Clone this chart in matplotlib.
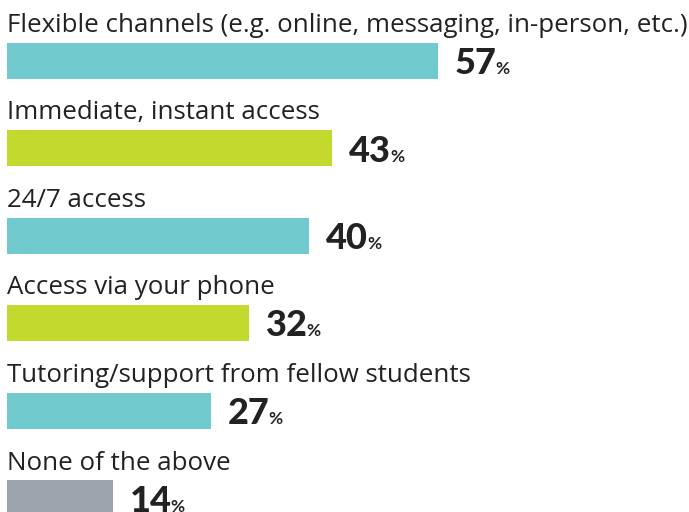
import matplotlib
matplotlib.use("Agg")
import matplotlib.pyplot as plt

categories = [
    "Flexible channels (e.g. online, messaging, in-person, etc.)",
    "Immediate, instant access",
    "24/7 access",
    "Access via your phone",
    "Tutoring/support from fellow students",
    "None of the above",
]
values = [57, 43, 40, 32, 27, 14]
colors = ["#70C9CD", "#C3D92E", "#70C9CD", "#C3D92E", "#70C9CD", "#9AA5AE"]

W, H = 689, 512
fig = plt.figure(figsize=(W / 100, H / 100), dpi=100)
ax = fig.add_axes([0, 0, 1, 1])
scale = 7.56  # px per percent
ax.set_xlim(-7 / scale, (W - 7) / scale)
ax.set_ylim(H, 0)
ax.axis("off")

centers = [60.5 + 87.5 * i for i in range(len(values))]
ax.barh(centers, values, height=36, color=colors, left=0)

nums = []
for c, cat, v in zip(centers, categories, values):
    ax.text(0, c - 28.5, cat, fontsize=18.6, family="Open Sans", color="#222222",
            va="baseline", ha="left")
    t = ax.text(v + 17 / scale, c + 13.5, f"{v}", fontsize=26, family="Lato",
                fontweight="black", color="#222222", va="baseline", ha="left")
    nums.append((t, c))

fig.canvas.draw()
r = fig.canvas.get_renderer()
inv = ax.transData.inverted()
for t, c in nums:
    bb = t.get_window_extent(renderer=r)
    x_data = inv.transform((bb.x1 - 1, 0))[0]
    ax.text(x_data, c + 13.5, "%", fontsize=12.5, family="Lato", fontweight="bold",
            color="#222222", va="baseline", ha="left")

fig.savefig("out.png", dpi=100)
